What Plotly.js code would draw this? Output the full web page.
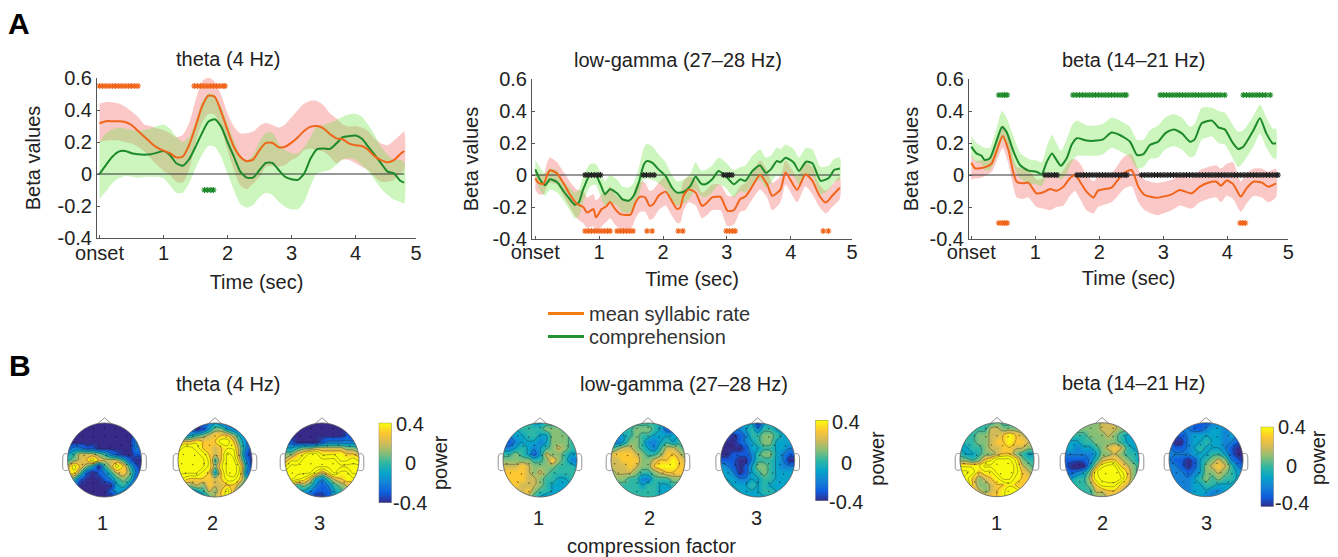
<!DOCTYPE html>
<html><head><meta charset="utf-8">
<script src="https://cdn.plot.ly/plotly-3.0.0.min.js"></script>
<style>html,body{margin:0;padding:0;background:#fff}#c{width:1338px;height:557px}</style>
</head><body><div id="c"></div>
<script>
// ---------- Panel A data (time in s, beta values) ----------
const thetaT=[0,.1,.2,.3,.4,.5,.6,.7,.8,.9,1,1.1,1.2,1.3,1.4,1.5,1.6,1.7,1.8,1.9,2,2.1,2.2,2.3,2.4,2.5,2.6,2.7,2.8,2.9,3,3.1,3.2,3.3,3.4,3.5,3.6,3.7,3.8,3.9,4,4.1,4.2,4.3,4.4,4.5,4.6,4.7,4.76];
const thetaRate=[.317,.33,.33,.33,.325,.306,.27,.233,.196,.165,.146,.13,.104,.108,.18,.296,.42,.49,.483,.39,.275,.17,.108,.08,.09,.15,.195,.195,.167,.17,.196,.23,.27,.296,.30,.285,.25,.223,.217,.19,.18,.175,.15,.11,.087,.073,.087,.125,.144];
const thetaRateUp=[.44,.45,.448,.44,.42,.39,.358,.31,.3,.285,.275,.254,.23,.244,.317,.46,.577,.604,.577,.494,.38,.296,.254,.254,.265,.3,.32,.306,.29,.31,.354,.4,.44,.458,.456,.43,.38,.348,.31,.296,.3,.29,.265,.22,.19,.18,.21,.244,.265];
const thetaRateLo=[.2,.21,.21,.21,.2,.19,.17,.14,.098,.056,.02,-.006,-.048,-.054,.025,.19,.317,.375,.37,.285,.15,.025,-.07,-.094,-.06,-.017,.046,.05,.046,.056,.088,.108,.15,.16,.15,.14,.108,.067,.09,.088,.067,.046,.025,-.017,-.048,-.048,-.037,.004,.025];
const thetaComp=[0,.056,.108,.14,.144,.13,.123,.12,.123,.133,.144,.119,.067,.052,.092,.17,.254,.327,.342,.296,.2,.108,.015,-.023,-.023,.025,.07,.07,.025,-.017,-.033,-.037,.004,.098,.156,.16,.156,.19,.23,.237,.24,.22,.17,.119,.067,.015,.004,-.042,-.054];
const thetaCompUp=[.2,.254,.28,.29,.285,.275,.27,.275,.285,.3,.31,.285,.233,.2,.233,.327,.45,.504,.494,.42,.317,.21,.119,.088,.119,.2,.258,.258,.19,.15,.13,.13,.17,.233,.3,.306,.32,.338,.358,.373,.377,.358,.306,.244,.17,.119,.088,.088,.077];
const thetaCompLo=[-.156,-.11,-.058,-.027,-.012,-.017,-.023,-.017,-.017,-.017,-.027,-.07,-.117,-.117,-.058,.035,.119,.175,.17,.108,.004,-.1,-.187,-.21,-.194,-.146,-.117,-.13,-.173,-.204,-.22,-.22,-.173,-.07,.004,.015,.025,.056,.092,.098,.088,.056,.015,-.037,-.09,-.13,-.16,-.173,-.183];
const thetaStarRate=[0,.05,.1,.15,.2,.25,.3,.35,.4,.45,.5,.55,.6,1.48,1.53,1.58,1.63,1.68,1.73,1.78,1.83,1.88,1.93,1.96];
const thetaStarComp=[1.64,1.69,1.74,1.78];
const thetaStarBoth=[];

const gammaRateT=[0,.05,.13,.18,.23,.34,.44,.54,.65,.75,.81,.91,.95,1.04,1.12,1.17,1.25,1.33,1.49,1.57,1.64,1.72,1.79,1.85,1.93,2.04,2.12,2.22,2.27,2.32,2.40,2.51,2.61,2.69,2.77,2.90,3.01,3.11,3.21,3.29,3.37,3.52,3.63,3.71,3.84,3.92,4.10,4.23,4.34,4.45,4.55,4.65,4.77];
const gammaRate=[-.02,-.05,-.055,-.006,.03,.01,-.05,-.12,-.18,-.2,-.235,-.213,-.265,-.213,-.193,-.168,-.213,-.244,-.248,-.172,-.135,-.14,-.193,-.182,-.13,-.104,-.15,-.213,-.203,-.13,-.09,-.11,-.193,-.172,-.14,-.137,-.224,-.22,-.15,-.135,-.09,0,-.058,-.13,-.09,.015,-.093,.004,-.037,-.13,-.172,-.13,-.08];
const gammaRateUp=[.03,.01,0,.07,.11,.08,.02,-.04,-.09,-.1,-.14,-.12,-.16,-.12,-.1,-.07,-.12,-.15,-.16,-.07,-.04,-.05,-.1,-.09,-.05,-.01,-.06,-.12,-.11,-.04,-.01,-.03,-.11,-.09,-.06,-.06,-.13,-.13,-.07,-.05,-.01,.09,.03,-.05,-.01,.09,-.01,.08,.05,-.06,-.1,-.06,-.01];
const gammaRateLo=[-.09,-.12,-.12,-.07,-.05,-.06,-.13,-.2,-.27,-.3,-.33,-.32,-.36,-.32,-.29,-.27,-.31,-.34,-.34,-.27,-.23,-.23,-.28,-.27,-.22,-.19,-.24,-.3,-.3,-.22,-.17,-.19,-.27,-.25,-.22,-.22,-.32,-.31,-.23,-.22,-.17,-.09,-.14,-.22,-.17,-.06,-.17,-.07,-.12,-.2,-.24,-.2,-.15];
const gammaCompT=[0,.07,.15,.23,.34,.44,.54,.62,.68,.75,.86,.94,1.02,1.09,1.17,1.28,1.36,1.46,1.54,1.62,1.70,1.75,1.83,1.93,2.04,2.14,2.22,2.32,2.43,2.51,2.59,2.66,2.77,2.87,2.98,3.11,3.21,3.29,3.40,3.52,3.61,3.69,3.78,3.84,3.92,4.05,4.13,4.24,4.34,4.47,4.60,4.68,4.77];
const gammaComp=[.035,-.027,-.064,-.027,-.044,-.1,-.151,-.186,-.172,-.089,.004,.004,-.058,-.12,-.089,-.114,-.151,-.161,-.13,-.048,.066,.087,.077,.035,-.006,-.078,-.11,-.106,-.068,-.01,-.052,-.058,-.027,.025,-.006,-.058,-.027,-.037,.025,.06,.014,.035,.087,.08,.108,.077,.025,.083,.073,-.037,-.017,.031,.041];
const gammaCompUp=[.09,.05,.01,.04,.03,-.04,-.08,-.11,-.09,-.01,.07,.07,.02,-.04,0,-.03,-.07,-.08,-.05,.04,.17,.195,.18,.13,.08,0,-.04,-.03,.01,.08,.03,.03,.06,.11,.08,.03,.05,.06,.12,.16,.11,.12,.17,.16,.19,.16,.11,.17,.16,.05,.06,.1,.11];
const gammaCompLo=[-.03,-.09,-.13,-.09,-.11,-.16,-.22,-.27,-.26,-.17,-.07,-.06,-.13,-.19,-.17,-.19,-.23,-.24,-.21,-.13,-.03,-.02,-.03,-.05,-.09,-.16,-.19,-.18,-.14,-.09,-.13,-.14,-.11,-.06,-.08,-.14,-.1,-.11,-.06,-.03,-.08,-.05,0,-.01,.02,-.01,-.06,-.01,-.01,-.12,-.09,-.04,-.03];
const gammaStarRate=[.78,.83,.88,.93,.98,1.03,1.08,1.13,1.17,1.28,1.33,1.38,1.43,1.48,1.53,1.75,1.83,2.24,2.31,2.99,3.04,3.09,3.13,4.51,4.59];
const gammaStarComp=[];
const gammaStarBoth=[.78,.83,.88,.93,.98,1.02,1.69,1.74,1.8,1.86,2.95,3,3.04,3.08];

const betaRateT=[0,.06,.135,.24,.32,.40,.49,.58,.66,.71,.81,.89,1.02,1.125,1.23,1.33,1.44,1.54,1.62,1.70,1.80,1.91,1.98,2.19,2.27,2.375,2.505,2.61,2.71,2.90,3.13,3.26,3.44,3.57,3.70,3.83,3.90,3.99,4.09,4.21,4.30,4.41,4.54,4.64,4.76];
const betaRate=[.077,.042,.042,.052,.073,.156,.244,.156,.01,-.042,-.052,-.048,-.115,-.108,-.0875,-.098,-.073,-.02,0,-.042,-.104,-.14,-.098,-.079,-.042,.01,.031,-.073,-.125,-.142,-.121,-.094,-.115,-.073,-.048,-.042,-.067,-.035,-.056,-.135,-.083,-.042,-.048,-.073,-.052];
const betaRateUp=[.13,.09,.09,.1,.13,.22,.31,.24,.1,.05,.04,.04,-.03,-.02,0,-.01,.03,.09,.1,.07,0,-.04,-.01,.01,.05,.11,.13,.03,-.03,-.05,-.03,0,-.02,.03,.05,.06,.04,.07,.08,-.04,.01,.04,.04,.02,.04];
const betaRateLo=[-.03,-.02,-.02,0,.02,.09,.17,.07,-.08,-.14,-.15,-.14,-.2,-.21,-.22,-.2,-.19,-.13,-.1,-.15,-.22,-.24,-.2,-.17,-.14,-.09,-.07,-.17,-.22,-.25,-.22,-.19,-.21,-.17,-.15,-.14,-.17,-.13,-.15,-.23,-.18,-.13,-.14,-.17,-.14];
const betaCompT=[0,.08,.16,.21,.29,.40,.48,.55,.66,.76,.89,1.02,1.10,1.18,1.26,1.33,1.40,1.49,1.57,1.65,1.80,1.96,2.06,2.19,2.32,2.48,2.59,2.69,2.79,2.92,3.03,3.16,3.29,3.42,3.49,3.60,3.76,3.86,3.96,4.09,4.17,4.25,4.41,4.51,4.61,4.71,4.76];
const betaComp=[.177,.135,.12,.094,.104,.22,.30,.27,.146,.0625,.027,.02,.004,.083,.135,.094,.058,.104,.19,.23,.215,.215,.223,.265,.25,.208,.125,.131,.1875,.208,.26,.285,.26,.208,.223,.323,.34,.298,.285,.198,.1625,.177,.281,.354,.26,.198,.198];
const betaCompUp=[.24,.2,.18,.17,.17,.30,.40,.36,.24,.14,.10,.09,.08,.18,.25,.2,.15,.22,.31,.34,.31,.31,.32,.36,.34,.30,.22,.22,.28,.31,.36,.38,.36,.30,.32,.42,.42,.40,.39,.31,.27,.28,.37,.44,.36,.29,.29];
const betaCompLo=[.12,.08,.07,.03,.03,.12,.22,.18,.06,-.02,-.05,-.06,-.07,0,.02,-.01,-.03,.01,.08,.12,.12,.12,.13,.17,.15,.11,.04,.05,.10,.11,.16,.18,.16,.11,.12,.22,.24,.20,.19,.10,.05,.08,.18,.26,.17,.11,.10];
const betaStarRate=[.43,.48,.52,.56,4.2,4.24,4.28];
const betaStarComp=[.43,.48,.52,.56,1.59,1.64,1.69,1.74,1.79,1.84,1.89,1.94,1.99,2.04,2.09,2.14,2.19,2.24,2.29,2.34,2.39,2.42,2.95,3,3.05,3.1,3.15,3.2,3.25,3.3,3.35,3.4,3.45,3.5,3.55,3.6,3.65,3.7,3.75,3.8,3.85,3.9,3.96,4.25,4.3,4.35,4.4,4.45,4.5,4.55,4.6,4.67];
const betaStarBoth=[1.15,1.2,1.25,1.3,1.34,1.65,1.7,1.75,1.8,1.85,1.9,1.95,2,2.05,2.1,2.15,2.2,2.25,2.3,2.35,2.4,2.43,2.66,2.71,2.76,2.81,2.86,2.91,2.96,3.01,3.06,3.11,3.16,3.21,3.26,3.31,3.36,3.41,3.46,3.51,3.56,3.61,3.66,3.71,3.76,3.81,3.86,3.91,3.96,4.01,4.06,4.11,4.16,4.21,4.26,4.31,4.36,4.41,4.46,4.51,4.56,4.61,4.66,4.71,4.76,4.79];

// ---------- Panel B data: scalp power, tenths, rows front (top) to back (bottom) ----------
const thetaMap1=[
[-4,-4,-4,-4,-4,-4,-4,-4,-4,-4,-4,-4,-4],[-4,-4,-4,-4,-4,-4,-4,-4,-4,-4,-4,-4,-4],[-4,-4,-4,-4,-4,-4,-4,-4,-4,-4,-4,-3,-4],
[-4,-4,-4,-4,-4,-4,-4,-4,-4,-4,-4,-2,-3],[-3,-2,-2,-3,-3,-4,-4,-4,-4,-4,-4,-2,-3],[-1,0,2,2,2,1,0,-2,-3,-4,-4,-3,-3],
[0,1,2,3,5,3,2,2,2,0,-3,-4,-4],[2,5,3,1,-1,-4,0,2,5,3,0,-3,-4],[3,4,1,-3,-4,-3,-2,0,2,3,1,-2,-4],
[0,0,-3,-4,-4,-4,-3,-2,0,1,0,-3,-4],[-1,-2,-4,-4,-4,-4,-4,-4,-1,0,-2,-4,-4],[-3,-3,-4,-4,-4,-4,-4,-3,-1,-2,-4,-4,-4],[-4,-4,-4,-4,-4,-4,-4,-4,-4,-4,-4,-4,-4]];
const thetaMap2=[
[-4,-4,-4,-4,-3,-2,-1,-2,-3,-3,-3,-3,-3],[-4,-4,-3,-4,-3,-1,1,1,-1,-2,-3,-3,-3],[-3,-2,-1,0,1,2,3,3,3,1,-1,-2,-3],
[2,3,3,4,3,3,3,5,5,3,0,-2,-3],[4,6,6,5,3,3,2,3,4,4,1,-2,-4],[6,6,6,6,5,3,2,3,6,5,1,-3,-4],
[6,6,6,6,6,4,0,3,6,6,2,-2,-4],[6,6,6,6,6,4,1,4,6,7,4,-1,-4],[6,6,6,6,4,3,-1,3,6,7,4,-2,-3],
[5,4,3,3,3,3,2,3,5,5,3,0,-2],[3,1,1,2,1,3,2,2,3,3,1,-1,-2],[0,-2,-2,-1,0,2,1,3,5,2,-1,-2,-2],[-2,-3,-3,-3,-2,0,2,3,5,1,-1,-2,-3]];
const thetaMap3=[
[-4,-4,-4,-4,-4,-4,-4,-4,-4,-4,-4,-4,-4],[-4,-4,-4,-4,-4,-4,-4,-4,-4,-4,-4,-4,-4],[-4,-4,-4,-4,-4,-4,-4,-4,-4,-4,-3,-4,-4],
[-3,-3,-4,-4,-4,-4,-3,-2,-2,-2,-2,-2,-3],[-1,-1,0,1,1,2,2,2,2,2,1,1,0],[1,1,3,4,6,6,4,4,4,4,3,3,2],
[2,4,4,6,6,6,6,6,6,4,4,5,4],[4,6,6,6,6,6,6,6,6,6,6,6,6],[6,6,6,6,6,4,2,4,6,4,4,6,6],
[6,6,5,4,2,-1,-2,0,2,3,4,4,4],[3,2,0,1,0,-2,-3,-2,0,1,2,2,2],[1,0,-1,-1,-2,-3,-3,-3,-1,0,1,1,1],[0,-1,-1,-2,-3,-4,-4,-3,-1,0,0,0,0]];
const gammaMap1=[
[0,0,0,0,0,-1,-1,0,0,0,0,0,0],[0,0,-1,0,0,0,0,1,1,1,0,0,0],[-2,-2,-1,-1,0,0,-1,-1,1,1,1,0,0],
[-3,-3,-2,-1,-1,-1,-2,-1,1,1,1,0,0],[-2,-2,-1,0,-1,-2,-1,0,1,2,1,0,0],[0,0,1,0,-1,-3,-1,2,1,1,0,-1,-1],
[1,1,1,1,1,0,0,1,3,1,0,-2,-2],[2,2,2,3,2,1,1,1,1,0,0,0,-1],[3,3,3,3,2,1,2,1,0,0,0,0,0],
[3,3,3,3,2,2,1,0,0,-1,-1,0,0],[2,3,3,2,2,2,1,0,-1,-1,-1,-1,-1],[2,2,2,2,3,1,0,0,-1,-1,-1,-1,-1],[1,1,1,1,1,0,-1,-2,-1,-1,-1,-1,-1]];
const gammaMap2=[
[0,0,0,0,0,0,0,0,-1,-3,-3,-2,-1],[-1,-1,0,0,1,1,1,0,-1,-3,-3,-2,-1],[-2,-2,-1,0,1,0,0,-1,-1,-1,-1,-1,-1],
[-2,-2,-1,1,1,0,-2,-2,-1,0,-1,0,-1],[0,1,2,2,1,0,-1,-2,0,2,2,1,0],[2,3,3,3,2,1,0,0,1,3,3,2,1],
[2,2,3,3,3,1,1,2,3,3,4,3,2],[2,2,2,3,2,1,1,3,4,4,4,3,3],[1,2,2,2,1,0,0,1,2,3,3,3,3],
[0,1,1,0,0,-2,-2,0,0,0,1,1,1],[0,0,0,0,0,-1,0,0,-1,-1,0,0,0],[0,0,0,0,0,0,0,0,-1,-1,-1,0,0],[0,0,0,0,0,0,0,0,-1,-1,-1,0,0]];
const gammaMap3=[
[-1,-1,-2,-2,-1,-1,-4,-1,-1,-1,-1,-1,-1],[-2,-2,-2,-2,-1,0,-2,0,0,-1,-1,-1,-1],[-3,-3,-4,-3,-2,0,0,1,1,0,-1,-1,-1],
[-4,-4,-4,-3,-2,-1,0,1,1,-1,-1,-1,-2],[-4,-4,-4,-4,-3,-1,-1,0,0,-1,-1,-2,-2],[-4,-4,-3,-3,-3,-2,0,1,1,-1,-2,-3,-3],
[-3,-3,-3,-4,-4,-2,0,0,0,-1,-2,-4,-4],[-1,-2,-3,-4,-3,-1,1,1,0,-1,-2,-2,-2],[-1,-1,-2,-4,-3,-1,0,1,0,-1,-1,-1,-1],
[-1,-1,-1,-2,-2,-1,-1,0,0,-1,-1,-1,-1],[0,0,-1,-1,-1,0,-1,0,-1,-1,-1,-1,-1],[1,0,0,-1,-1,-1,-1,0,0,-1,-1,-1,-1],[1,1,0,0,-1,-1,-1,-1,-1,-1,-1,-1,-1]];
const betaMap1=[
[0,0,0,0,0,0,1,0,0,0,0,0,0],[0,0,0,0,0,2,2,1,1,1,1,1,1],[0,0,0,1,1,2,2,3,4,3,2,1,1],
[-1,0,0,1,1,2,3,3,4,3,3,2,1],[-1,-1,0,0,1,2,2,3,3,2,2,1,1],[0,-1,-1,0,1,1,2,3,3,1,0,-1,-1],
[1,1,0,1,3,4,6,6,6,4,1,0,0],[4,4,4,4,6,6,7,7,7,5,2,1,0],[6,6,5,3,4,4,6,7,7,5,3,2,1],
[6,5,3,1,2,3,4,6,6,4,3,3,2],[4,6,3,1,1,2,3,3,4,3,3,3,3],[2,3,3,2,1,2,3,4,5,5,3,3,3],[2,2,3,3,3,3,3,4,5,5,3,3,3]];
const betaMap2=[
[0,0,1,1,1,1,2,2,2,1,1,1,0],[0,0,1,1,1,1,2,2,2,1,1,0,0],[-1,0,0,0,1,1,1,2,1,0,-1,-1,-1],
[-1,-1,-1,0,0,1,1,1,1,0,-1,-1,-1],[-1,-1,-2,-1,-1,0,1,2,3,2,0,-1,-1],[-2,-2,-2,-2,-2,-1,1,1,2,1,0,0,-1],
[-3,-3,-3,-3,-2,0,2,3,3,2,1,0,-1],[-3,-4,-5,-4,-1,2,5,6,6,3,2,1,0],[-2,-3,-2,-1,1,5,7,7,7,5,3,1,0],
[-1,-1,0,0,2,5,6,7,7,6,3,1,0],[-1,0,0,0,1,3,5,5,5,3,2,1,1],[0,0,0,0,0,2,2,3,3,2,1,1,1],[0,0,0,0,0,1,1,2,2,1,1,1,1]];
const betaMap3=[
[-2,-2,-2,-2,-3,-3,-3,-2,-2,-2,-2,-2,-2],[-2,-2,-2,-2,-3,-3,-2,-1,-1,-2,-2,-2,-2],[-2,-3,-3,-2,-1,-1,-1,-1,-1,-2,-1,-2,-2],
[-3,-4,-4,-2,-1,-1,0,-1,-1,-2,-2,-3,-3],[-2,-3,-3,-2,-1,0,-1,-1,-1,-2,-3,-4,-4],[-2,-2,-2,-2,-1,-1,-1,0,0,-1,-3,-4,-4],
[-2,-3,-3,-4,-3,-1,0,1,2,1,-2,-3,-4],[-2,-2,-3,-4,-3,-1,1,2,3,2,0,-2,-3],[-2,-2,-2,-3,-2,-1,1,1,2,1,0,-1,-2],
[-2,-2,-2,-2,-1,0,1,0,1,0,0,-1,-1],[-2,-2,-2,-2,-1,-1,0,0,-1,-1,-1,-1,-1],[-1,-1,-2,-2,-1,-1,-1,-2,-2,-1,-1,-1,-1],[-1,-1,-1,-1,-1,-1,-2,-2,-1,-1,-1,-1,-1]];
const gridPos=[1,.8333,.6667,.5,.3333,.1667,0,-.1667,-.3333,-.5,-.6667,-.8333,-1];
const gridPosX=[-1,-.8333,-.6667,-.5,-.3333,-.1667,0,.1667,.3333,.5,.6667,.8333,1];
const electrodeX=[-.3,0,.3,-.6,-.3,0,.3,.6,-.75,-.45,-.15,.15,.45,.75,-.85,-.55,-.25,.05,.35,.65,.9,-.9,-.6,-.3,0,.3,.6,.85,-.8,-.5,-.2,.1,.4,.7,-.6,-.3,0,.3,.6,-.3,0,.3];
const electrodeY=[.85,.88,.85,.65,.62,.65,.62,.65,.4,.38,.4,.38,.4,.38,.15,.12,.15,.12,.15,.12,.14,-.1,-.12,-.1,-.12,-.1,-.12,-.1,-.35,-.38,-.35,-.38,-.35,-.38,-.6,-.62,-.6,-.62,-.6,-.85,-.88,-.85];

const yTickVals=[-.4,-.2,0,.2,.4,.6];
const yTickText=['-0.4','-0.2','0','0.2','0.4','0.6'];
const xTickText=['onset','1','2','3','4','5'];
const colorbarTicks=['-0.4','0','0.4'];
const parula=[[0,'#352a87'],[.125,'#0f5cdd'],[.25,'#1481d6'],[.375,'#06a4ca'],[.5,'#2eb7a4'],[.625,'#87bf77'],[.75,'#d1bb59'],[.875,'#fec832'],[1,'#f9fb0e']];

const W=1338,H=557,FONT='"Liberation Sans",Arial,sans-serif',INK='#222';
const ORANGE='#f0651a',GREEN='#1d8a2a',RED_BAND='rgba(247,145,145,0.5)',GREEN_BAND='rgba(112,226,69,0.35)';
const px=(a,b)=>[a/W,b/W], py=(top,bot)=>[1-bot/H,1-top/H];

let traces=[],shapes=[],annotations=[],layout={};
function txt(t,x,y,o={}){annotations.push(Object.assign({text:t,xref:'paper',yref:'paper',x:x/W,y:1-y/H,showarrow:false,xanchor:'center',yanchor:'middle',font:{family:FONT,size:20,color:INK}},o));}

function band(t,up,lo,color,ax){traces.push({type:'scatter',mode:'lines',x:t.concat(t.slice().reverse()),y:up.concat(lo.slice().reverse()),fill:'toself',fillcolor:color,line:{width:0,color:'rgba(0,0,0,0)',shape:'spline',smoothing:.6},hoverinfo:'skip',showlegend:false,xaxis:ax[0],yaxis:ax[1]});}
function line(t,v,c,ax){traces.push({type:'scatter',mode:'lines',x:t,y:v,line:{color:c,width:2,shape:'spline',smoothing:.6},showlegend:false,xaxis:ax[0],yaxis:ax[1]});}
function stars(t,yv,c,ax){if(!t.length)return;traces.push({type:'scatter',mode:'markers',x:t,y:t.map(()=>yv),marker:{symbol:'asterisk-open',size:5,color:c,line:{color:c,width:1.1}},showlegend:false,xaxis:ax[0],yaxis:ax[1],cliponaxis:false});}

const panels=[
 {title:'theta (4 Hz)',tc:228,ty:59,ax:['x','y'],xn:'xaxis',yn:'yaxis',dx:[97,416],dy:[78,238],rx:[-.039,4.945],end:4.945,tEnd:4.76,
  rt:thetaT,r:thetaRate,ru:thetaRateUp,rl:thetaRateLo,ct:thetaT,c:thetaComp,cu:thetaCompUp,cl:thetaCompLo,sr:thetaStarRate,sc:thetaStarComp,sb:thetaStarBoth,sry:.55,scy:-.1,xs:11,ys:11,tl:-3},
 {title:'low-gamma (27–28 Hz)',tc:678,ty:60,ax:['x2','y2'],xn:'xaxis2',yn:'yaxis2',dx:[532,852],dy:[79,239],rx:[-.052,4.96],end:4.96,tEnd:4.77,
  rt:gammaRateT,r:gammaRate,ru:gammaRateUp,rl:gammaRateLo,ct:gammaCompT,c:gammaComp,cu:gammaCompUp,cl:gammaCompLo,sr:gammaStarRate,sc:gammaStarComp,sb:gammaStarBoth,sry:-.35,scy:.5,xs:9,ys:8,tl:-5},
 {title:'beta (14–21 Hz)',tc:1133,ty:60,ax:['x3','y3'],xn:'xaxis3',yn:'yaxis3',dx:[969,1288.3],dy:[79,239],rx:[-.036,4.953],end:4.953,tEnd:4.79,
  rt:betaRateT,r:betaRate,ru:betaRateUp,rl:betaRateLo,ct:betaCompT,c:betaComp,cu:betaCompUp,cl:betaCompLo,sr:betaStarRate,sc:betaStarComp,sb:betaStarBoth,sry:-.3,scy:.5,xs:8,ys:5,tl:-5}];

panels.forEach(p=>{
  band(p.rt,p.ru,p.rl,RED_BAND,p.ax);
  band(p.ct,p.cu,p.cl,GREEN_BAND,p.ax);
  traces.push({type:'scatter',mode:'lines',x:[p.rx[0],p.tEnd],y:[0,0],line:{color:'#333',width:1},showlegend:false,xaxis:p.ax[0],yaxis:p.ax[1]});
  line(p.ct,p.c,GREEN,p.ax);
  line(p.rt,p.r,ORANGE,p.ax);
  stars(p.sr,p.sry,ORANGE,p.ax);
  stars(p.sc,p.scy,GREEN,p.ax);
  stars(p.sb,0,'#222',p.ax);
  layout[p.xn]={domain:px(...p.dx),range:p.rx,anchor:p.ax[1],showgrid:false,zeroline:false,showline:true,linecolor:'#555',linewidth:1,ticks:'inside',ticklen:3,tickcolor:'#555',tickmode:'array',tickvals:[0,1,2,3,4,p.end],ticktext:xTickText,ticklabelstandoff:p.tl,tickfont:{family:FONT,size:20,color:INK},title:{text:'Time (sec)',font:{family:FONT,size:20,color:INK},standoff:p.xs}};
  layout[p.yn]={domain:py(...p.dy),range:[-.4,.6],anchor:p.ax[0],showgrid:false,zeroline:false,showline:true,linecolor:'#555',linewidth:1,ticks:'inside',ticklen:3,tickcolor:'#555',tickmode:'array',tickvals:yTickVals,ticktext:yTickText,tickfont:{family:FONT,size:20,color:INK},title:{text:'Beta values',font:{family:FONT,size:20,color:INK},standoff:p.ys}};
  txt(p.title,p.tc,p.ty);
});
// legend keys
traces.push({type:'scatter',mode:'lines',x:[null],y:[null],name:'mean syllabic rate',line:{color:'#f57a14',width:3},xaxis:'x',yaxis:'y',showlegend:true,legend:'legend'});
traces.push({type:'scatter',mode:'lines',x:[null],y:[null],name:'comprehension',line:{color:'#23922f',width:3},xaxis:'x',yaxis:'y',showlegend:true,legend:'legend2'});

// ---- topographic maps ----
const R=37,EXT=1.34;
const k=.5523;
const circ=(r)=>`M ${-r} 0 C ${-r} ${k*r} ${-k*r} ${r} 0 ${r} C ${k*r} ${r} ${r} ${k*r} ${r} 0 C ${r} ${-k*r} ${k*r} ${-r} 0 ${-r} C ${-k*r} ${-r} ${-r} ${-k*r} ${-r} 0 Z`;
const groups=[
 {title:'theta (4 Hz)',tc:228,ty:384,cy:460,cx:[104.5,215,322],maps:[thetaMap1,thetaMap2,thetaMap3],lab:[102,212,319],laby:523,cb:[378.7,422.7,503],cbLab:[424,463,503],cbX:410,pw:[440,463]},
 {title:'low-gamma (27–28 Hz)',tc:684,ty:384,cy:460,cx:[540,648,757.7],maps:[gammaMap1,gammaMap2,gammaMap3],lab:[538,649,756],laby:518,cb:[815.3,420,500.7],cbLab:[422,463,502],cbX:846,pw:[876.7,458]},
 {title:'beta (14–21 Hz)',tc:1133,ty:383,cy:459.7,cx:[997,1102,1206],maps:[betaMap1,betaMap2,betaMap3],lab:[996,1102,1206],laby:523,cb:[1260.7,426.7,506.7],cbLab:[427,466,503],cbX:1291.7,pw:[1318,458]}];
let axN=4;
groups.forEach((g,gi)=>{
  txt(g.title,g.tc,g.ty);
  g.maps.forEach((m,i)=>{
    const xa='x'+axN,ya='y'+axN,cx=g.cx[i],cy=g.cy,half=R*EXT;
    layout['xaxis'+axN]={domain:px(cx-half,cx+half),range:[-EXT,EXT],anchor:ya,visible:false,fixedrange:true};
    layout['yaxis'+axN]={domain:py(cy-half,cy+half),range:[-EXT,EXT],anchor:xa,visible:false,fixedrange:true};
    traces.push({type:'contour',x:gridPosX,y:gridPos,z:m.map(r=>r.map(v=>v/10)),xaxis:xa,yaxis:ya,zmin:-.4,zmax:.4,zauto:false,colorscale:parula,showscale:false,
      contours:{coloring:'heatmap',start:-.35,end:.65,size:.13,showlines:true},line:{color:'rgba(30,30,30,.7)',width:.5,smoothing:1},zsmooth:'best',hoverinfo:'skip'});
    traces.push({type:'scatter',mode:'markers',x:electrodeX,y:electrodeY,marker:{size:1.4,color:'rgba(0,0,0,.55)'},hoverinfo:'skip',showlegend:false,xaxis:xa,yaxis:ya});
    const common={xref:xa,yref:ya,layer:'above'};
    shapes.push(Object.assign({type:'path',path:`M ${-EXT} ${-EXT} L ${EXT} ${-EXT} L ${EXT} ${EXT} L ${-EXT} ${EXT} Z ${circ(1)}`,fillcolor:'#fff',line:{width:0},fillrule:'evenodd'},common));
    shapes.push(Object.assign({type:'path',path:circ(1),line:{color:'#555',width:.8}},common));
    shapes.push(Object.assign({type:'path',path:'M -.18 .985 L 0 1.14 L .18 .985',line:{color:'#777',width:.8}},common));
    shapes.push(Object.assign({type:'path',path:'M -1 .16 C -1.1 .2 -1.12 .14 -1.13 .05 L -1.13 -.2 C -1.12 -.3 -1.06 -.3 -.98 -.27',line:{color:'#777',width:.8}},common));
    shapes.push(Object.assign({type:'path',path:'M 1 .16 C 1.1 .2 1.12 .14 1.13 .05 L 1.13 -.2 C 1.12 -.3 1.06 -.3 .98 -.27',line:{color:'#777',width:.8}},common));
    txt(String(i+1),g.lab[i],g.laby);
    axN++;
  });
  // colour bar: one vertical heatmap drawn through its own small axis
  const xa='x'+axN,ya='y'+axN,[cbx,cbt,cbb]=g.cb;
  layout['xaxis'+axN]={domain:px(cbx,cbx+13),range:[0,1],anchor:ya,visible:false,fixedrange:true};
  layout['yaxis'+axN]={domain:py(cbt,cbb),range:[-.4,.4],anchor:xa,visible:false,fixedrange:true};
  shapes.push({type:'rect',xref:xa,yref:ya,x0:0,x1:1,y0:-.4,y1:.4,line:{color:'#666',width:.7},layer:'above'});
  traces.push({type:'heatmap',x:[0,1],y:[-.4,-.3,-.2,-.1,0,.1,.2,.3,.4],z:[[-.4,-.4],[-.3,-.3],[-.2,-.2],[-.1,-.1],[0,0],[.1,.1],[.2,.2],[.3,.3],[.4,.4]],zsmooth:'best',zmin:-.4,zmax:.4,colorscale:parula,showscale:false,xaxis:xa,yaxis:ya,hoverinfo:'skip'});
  colorbarTicks.slice().reverse().forEach((t,j)=>txt(t,g.cbX,g.cbLab[j]));
  txt('power',g.pw[0],g.pw[1],{textangle:-90});
  axN++;
});
txt('compression factor',651,546);
txt('<b>A</b>',19,24,{font:{family:FONT,size:30,color:'#000'}});
txt('<b>B</b>',20,365,{font:{family:FONT,size:30,color:'#000'}});

const legendBase={x:543/W,xanchor:'left',yanchor:'top',bgcolor:'rgba(0,0,0,0)',borderwidth:0,font:{family:FONT,size:20,color:'#333'},itemwidth:36,tracegroupgap:0};
Object.assign(layout,{width:W,height:H,margin:{l:0,r:0,t:0,b:0,pad:0},paper_bgcolor:'#fff',plot_bgcolor:'rgba(0,0,0,0)',font:{family:FONT,size:20,color:INK},
  showlegend:true,legend:Object.assign({y:1-294/H},legendBase),legend2:Object.assign({y:1-317/H},legendBase),
  shapes,annotations});
Plotly.newPlot('c',traces,layout,{displayModeBar:false,responsive:false});
</script></body></html>
